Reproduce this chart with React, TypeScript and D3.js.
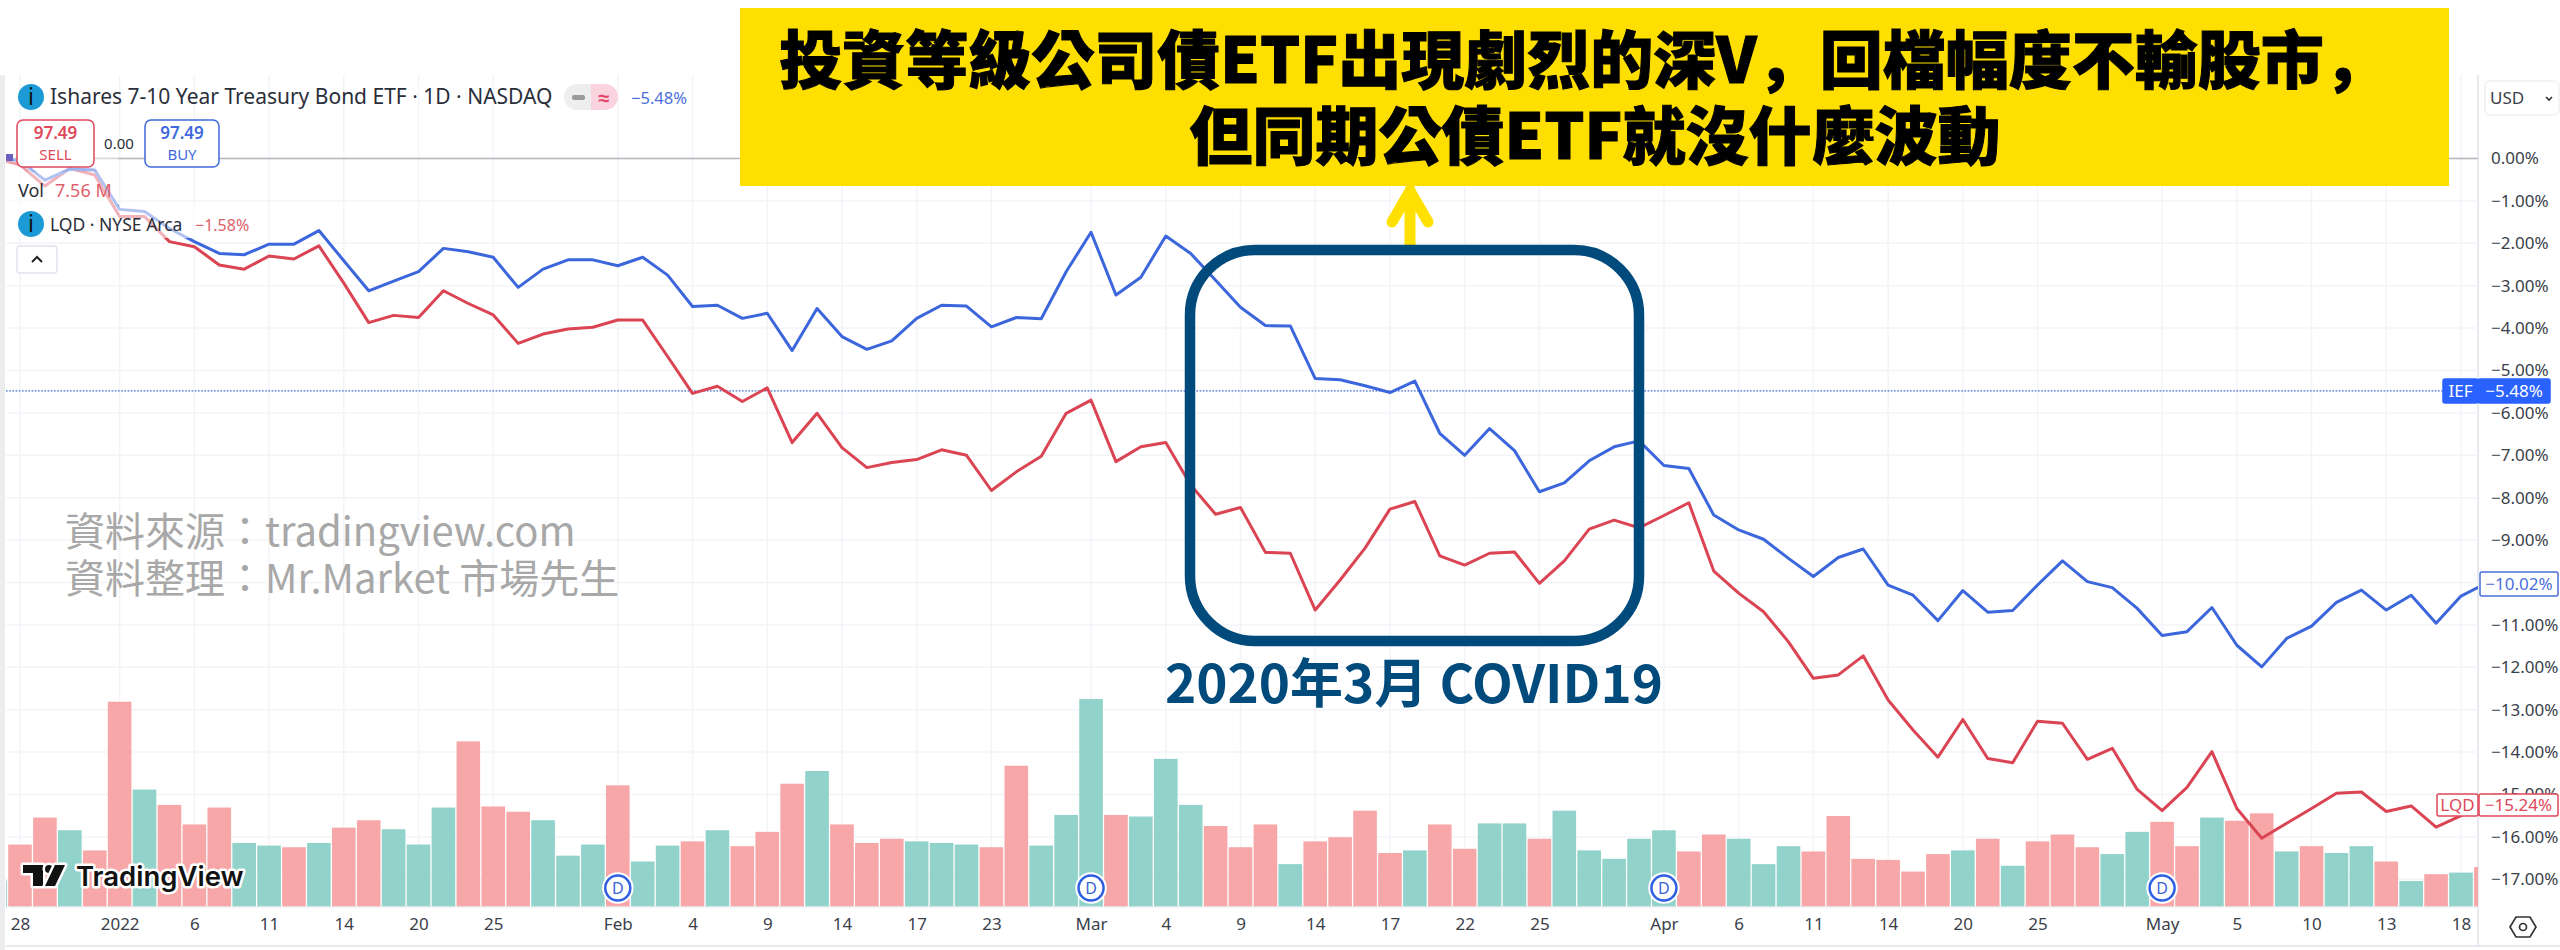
import { useEffect, useRef } from 'react'
import * as d3 from 'd3'

// index -1 and 99 are cut off by the chart edges
const barIndex = d3.range(-1, 100)

const iefValues = [
  0, -0.05, -0.51, -0.25, -0.27, -1.2, -1.25, -1.65, -1.96, -2.24, -2.27, -2.02, -2.02, -1.7, -2.41, -3.12, -2.89, -2.67, -2.12, -2.2,
  -2.33, -3.04, -2.61, -2.39, -2.39, -2.53, -2.33, -2.75, -3.49, -3.46, -3.77, -3.65, -4.53, -3.54, -4.2, -4.5, -4.3, -3.77, -3.46, -3.48,
  -3.97, -3.75, -3.78, -2.67, -1.74, -3.22, -2.8, -1.83, -2.24, -2.87, -3.51, -3.94, -3.95, -5.19, -5.22, -5.36, -5.52, -5.25, -6.48, -7.0,
  -6.37, -6.89, -7.86, -7.65, -7.13, -6.8, -6.66, -7.24, -7.31, -8.41, -8.76, -8.98, -9.43, -9.86, -9.41, -9.21, -10.06, -10.3, -10.9, -10.19,
  -10.7, -10.66, -10.06, -9.49, -9.98, -10.12, -10.61, -11.25, -11.16, -10.59, -11.48, -11.99, -11.32, -11.03, -10.47, -10.18, -10.65, -10.3, -10.96, -10.32,
  -10.02,
]

const lqdValues = [
  0, -0.15, -0.65, -0.23, -0.39, -1.37, -1.37, -1.96, -2.08, -2.51, -2.61, -2.3, -2.37, -2.06, -2.94, -3.87, -3.7, -3.75, -3.12, -3.42,
  -3.69, -4.36, -4.14, -4.02, -3.98, -3.81, -3.81, -4.67, -5.54, -5.37, -5.73, -5.41, -6.7, -6.01, -6.82, -7.29, -7.17, -7.1, -6.87, -7.0,
  -7.83, -7.39, -7.02, -6.01, -5.7, -7.15, -6.8, -6.7, -7.7, -8.39, -8.23, -9.29, -9.31, -10.65, -9.94, -9.19, -8.27, -8.09, -9.37, -9.59,
  -9.31, -9.28, -10.02, -9.49, -8.74, -8.53, -8.71, -8.42, -8.12, -9.73, -10.25, -10.69, -11.4, -12.26, -12.18, -11.73, -12.77, -13.48, -14.12, -13.23,
  -14.15, -14.25, -13.27, -13.32, -14.17, -13.91, -14.88, -15.38, -14.83, -13.99, -15.33, -16.03, -15.68, -15.33, -14.97, -14.94, -15.4, -15.27, -15.77, -15.5,
  -15.24,
]

// volume in millions
const volumes = [
  5.0, 11.8, 16.9, 14.5, 10.7, 38.8, 22.2, 19.3, 15.6, 18.8, 12.1, 11.6, 11.3, 12.1, 15.0, 16.4, 14.7, 11.8, 18.8, 31.3,
  19.0, 18.0, 16.4, 9.7, 11.8, 23.0, 8.6, 11.6, 12.4, 14.5, 11.5, 14.2, 23.3, 25.7, 15.6, 12.1, 12.9, 12.4, 12.1, 11.8,
  11.3, 26.7, 11.6, 17.4, 39.3, 17.4, 17.1, 28.0, 19.3, 15.3, 11.3, 15.6, 8.1, 12.4, 13.2, 18.2, 10.2, 10.7, 15.6, 11.0,
  15.8, 15.8, 12.9, 18.2, 10.7, 9.1, 12.9, 14.5, 10.5, 13.7, 12.9, 8.1, 11.5, 10.5, 17.2, 9.1, 8.9, 6.7, 10.0, 10.7,
  12.9, 7.8, 12.4, 13.7, 11.3, 10.0, 14.2, 16.1, 11.5, 16.9, 16.3, 17.7, 10.5, 11.5, 10.2, 11.5, 8.6, 4.9, 6.2, 6.5,
  7.56,
]

const upBars = [-1, 2, 5, 9, 10, 12, 15, 16, 17, 21, 22, 23, 25, 26, 28, 32, 36, 37, 38, 41, 42, 43, 45, 46, 47, 51, 56, 59, 60, 62, 63, 64, 65, 66, 69, 70, 71, 78, 80, 84, 85, 88, 91, 93, 94, 96, 98]

const timeTicks = [0, 4, 7, 10, 13, 16, 19, 24, 27, 30, 33, 36, 39, 43, 46, 49, 52, 55, 58, 61, 66, 69, 72, 75, 78, 81, 86, 89, 92, 95, 98]
const timeLabels = ['28', '2022', '6', '11', '14', '20', '25', 'Feb', '4', '9', '14', '17', '23', 'Mar', '4', '9', '14', '17', '22', '25', 'Apr', '6', '11', '14', '20', '25', 'May', '5', '10', '13', '18']
const pctTicks = d3.range(0, -18, -1)
const dividendBars = [24, 43, 66, 86]

const BLUE = '#2962ff'
const LINE_BLUE = '#3c66dc'
const LINE_RED = '#da4453'
const RED = '#e0475a'
const NAVY = '#004a7c'
const UI_FONT = '"Noto Sans", "Liberation Sans", sans-serif'
const CJK_FONT = '"Noto Sans CJK TC", "Noto Sans", sans-serif'

export default function App() {
  const ref = useRef<HTMLDivElement>(null)

  useEffect(() => {
    if (!ref.current) return
    const container = ref.current
    container.innerHTML = ''

    const width = 2560
    const height = 950
    const chartL = 6
    const chartR = 2478
    const chartT = 75
    const chartB = 946
    const volBase = 907

    const svg = d3.select(container).append('svg')
      .attr('width', width)
      .attr('height', height)
      .style('position', 'absolute')
      .style('left', 0)
      .style('top', 0)
      .style('background', '#fff')
      .style('font-family', UI_FONT)

    const x = d3.scaleLinear().domain([0, 98]).range([20, 2461])
    const y = d3.scaleLinear().domain([0, -17]).range([158.5, 879.3])
    const vol = d3.scaleLinear().domain([0, 7.56]).range([volBase, volBase - 40])

    svg.append('defs').append('clipPath').attr('id', 'plot')
      .append('rect').attr('x', chartL).attr('y', chartT).attr('width', chartR - chartL).attr('height', chartB - chartT)

    // left strip and frame
    svg.append('rect').attr('x', 0).attr('y', chartT).attr('width', 5).attr('height', height - chartT).attr('fill', '#ececee')
    svg.append('line').attr('x1', chartL).attr('x2', width).attr('y1', chartB).attr('y2', chartB).attr('stroke', '#e6e8ee').attr('stroke-width', 2)
    svg.append('line').attr('x1', chartR).attr('x2', chartR).attr('y1', chartT).attr('y2', chartB).attr('stroke', '#e0e3eb').attr('stroke-width', 1.5)

    const plot = svg.append('g').attr('clip-path', 'url(#plot)')

    // grid
    plot.selectAll('line.h').data(pctTicks).join('line').attr('class', 'h')
      .attr('x1', chartL).attr('x2', chartR).attr('y1', d => y(d)).attr('y2', d => y(d))
      .attr('stroke', '#f3f4f8').attr('stroke-width', 1.5)
    plot.selectAll('line.v').data(timeTicks).join('line').attr('class', 'v')
      .attr('x1', d => x(d)).attr('x2', d => x(d)).attr('y1', chartT).attr('y2', volBase)
      .attr('stroke', '#f3f4f8').attr('stroke-width', 1.5)

    // volume
    plot.selectAll('rect.vol').data(barIndex).join('rect').attr('class', 'vol')
      .attr('x', d => x(d) - 11.8)
      .attr('width', 23.6)
      .attr('y', (_, i) => vol(volumes[i]))
      .attr('height', (_, i) => volBase - vol(volumes[i]))
      .attr('fill', d => upBars.includes(d) ? '#91d2ca' : '#f7a7a8')
    plot.append('line').attr('x1', chartL).attr('x2', chartR).attr('y1', volBase).attr('y2', volBase)
      .attr('stroke', '#eceef2').attr('stroke-width', 1.5)

    // last price and zero lines
    plot.append('line').attr('x1', chartL).attr('x2', 2443).attr('y1', y(-5.48)).attr('y2', y(-5.48))
      .attr('stroke', '#5b7fd6').attr('stroke-width', 1.6).attr('stroke-dasharray', '1.6 1.6').attr('opacity', 0.85)
    plot.append('line').attr('x1', chartL).attr('x2', chartR).attr('y1', y(0)).attr('y2', y(0))
      .attr('stroke', '#b4b6bc').attr('stroke-width', 1.5)

    // series
    const line = d3.line<number>().x((_, i) => x(barIndex[i])).y(d => y(d))
    plot.append('path').datum(lqdValues).attr('d', line).attr('fill', 'none').attr('stroke', LINE_RED).attr('stroke-width', 3).attr('stroke-linejoin', 'round')
    plot.append('path').datum(iefValues).attr('d', line).attr('fill', 'none').attr('stroke', LINE_BLUE).attr('stroke-width', 3).attr('stroke-linejoin', 'round')

    // legend background washes out the lines a bit
    svg.append('rect').attr('x', chartL).attr('y', 172).attr('width', 112).attr('height', 34).attr('fill', '#fff').attr('opacity', 0.6)
    svg.append('rect').attr('x', chartL).attr('y', 206).attr('width', 250).attr('height', 32).attr('fill', '#fff').attr('opacity', 0.6)
    svg.append('rect').attr('x', chartL).attr('y', 158).attr('width', 112).attr('height', 14).attr('fill', '#fff').attr('opacity', 0.5)

    svg.append('rect').attr('x', 6).attr('y', 154).attr('width', 7).attr('height', 7).attr('fill', '#6a5fc0')

    // dividend flags
    const flags = svg.selectAll('g.flag').data(dividendBars).join('g').attr('class', 'flag')
      .attr('transform', d => `translate(${x(d)},888)`)
    flags.append('circle').attr('r', 14).attr('fill', '#fff').attr('stroke', '#fff').attr('stroke-width', 3.5)
    flags.append('circle').attr('r', 12.5).attr('fill', '#fff').attr('stroke', '#2f5fe0').attr('stroke-width', 2.5)
    flags.append('text').attr('y', 6).attr('text-anchor', 'middle').style('font-size', '16px').style('fill', '#3a62d8').text('D')

    // TradingView mark
    const logo = svg.append('g').attr('stroke', '#fff').attr('stroke-width', 5).attr('stroke-linejoin', 'round').style('paint-order', 'stroke')
    logo.append('path').attr('d', 'M23 865H43V886H33V873H23Z').attr('fill', '#111')
    logo.append('circle').attr('cx', 49).attr('cy', 869).attr('r', 4).attr('fill', '#111')
    logo.append('path').attr('d', 'M55 865H65L55 886H45Z').attr('fill', '#111')
    logo.append('text').attr('x', 76).attr('y', 886).attr('fill', '#111')
      .style('font-family', 'Inter, sans-serif').style('font-size', '27.5px').style('font-weight', 600).text('TradingView')

    // price scale
    const yAxis = d3.axisRight(y).tickValues(pctTicks).tickSize(0).tickPadding(0)
      .tickFormat(d => `${+d < 0 ? '\u2212' : ''}${Math.abs(+d).toFixed(2)}%`)
    const yG = svg.append('g').attr('transform', `translate(2491,0)`).call(yAxis)
    yG.select('.domain').remove()
    yG.selectAll('text').style('font-size', '17px').style('font-family', UI_FONT).style('fill', '#3b3f4a')

    // time scale
    const xAxis = d3.axisBottom(x).tickValues(timeTicks).tickSize(0).tickPadding(0)
      .tickFormat((_, i) => timeLabels[i])
    const xG = svg.append('g').attr('transform', `translate(0,918)`).call(xAxis)
    xG.select('.domain').remove()
    xG.selectAll('text').style('font-size', '17px').style('font-family', UI_FONT).style('fill', '#3b3f4a')

    // USD selector
    svg.append('rect').attr('x', 2485).attr('y', 81).attr('width', 74).attr('height', 34).attr('rx', 5).attr('fill', '#fff').attr('stroke', '#eef0f3').attr('stroke-width', 1.5)
    svg.append('text').attr('x', 2490).attr('y', 104).style('font-size', '17px').style('fill', '#3b3f4a').text('USD')
    svg.append('path').attr('d', 'M2546 97l3 3 3-3').attr('fill', 'none').attr('stroke', '#333').attr('stroke-width', 1.6)

    // settings icon
    svg.append('path').attr('d', 'M2516 917H2530L2536 927L2530 937H2516L2510 927Z').attr('fill', 'none').attr('stroke', '#333').attr('stroke-width', 1.7)
    svg.append('circle').attr('cx', 2523).attr('cy', 927).attr('r', 3.5).attr('fill', 'none').attr('stroke', '#333').attr('stroke-width', 1.7)

    // price tags
    const tag = (tx: number, tw: number, ty: number, th: number, label: string, fill: string, textFill: string, stroke: string) => {
      svg.append('rect').attr('x', tx).attr('y', ty).attr('width', tw).attr('height', th).attr('rx', 2).attr('fill', fill).attr('stroke', stroke).attr('stroke-width', 1.5)
      svg.append('text').attr('x', tx + tw / 2).attr('y', ty + th / 2 + 6).attr('text-anchor', 'middle').style('font-size', '17px').style('fill', textFill).text(label)
    }
    tag(2443, 35, 379, 24, 'IEF', BLUE, '#fff', BLUE)
    tag(2478, 72, 379, 24, '\u22125.48%', BLUE, '#fff', BLUE)
    tag(2480, 78, 572, 24, '\u221210.02%', '#fff', '#4a6fd8', '#4a6fd8')
    tag(2437, 41, 794, 22, 'LQD', '#fff', RED, RED)
    tag(2479, 79, 794, 22, '\u221215.24%', '#fff', RED, RED)

    // legend
    const infoBadge = (cy: number) => {
      svg.append('circle').attr('cx', 31).attr('cy', cy).attr('r', 13).attr('fill', '#1c9ad6')
      svg.append('text').attr('x', 31).attr('y', cy + 8).attr('text-anchor', 'middle').style('font-size', '23px').style('fill', '#111').text('i')
    }
    infoBadge(97)
    svg.append('text').attr('x', 50).attr('y', 104).style('font-size', '21px').style('fill', '#2a2e39')
      .text('Ishares 7-10 Year Treasury Bond ETF · 1D · NASDAQ')
    svg.append('path').attr('d', 'M591 84H577A13 13 0 0 0 577 110H591Z').attr('fill', '#eeeeee')
    svg.append('path').attr('d', 'M591 84H605A13 13 0 0 1 605 110H591Z').attr('fill', '#fbd3de')
    svg.append('rect').attr('x', 572).attr('y', 95).attr('width', 13).attr('height', 5).attr('rx', 2).attr('fill', '#9a9a9a')
    svg.append('text').attr('x', 604).attr('y', 105).attr('text-anchor', 'middle').style('font-size', '20px').style('font-weight', 700).style('fill', '#e0456a').text('≈')
    svg.append('text').attr('x', 631).attr('y', 104).style('font-size', '16.5px').style('fill', '#4a6fd8').text('\u22125.48%')

    const tradeBox = (bx: number, bw: number, color: string, price: string, label: string) => {
      svg.append('rect').attr('x', bx).attr('y', 120).attr('width', bw).attr('height', 47).attr('rx', 6).attr('fill', '#fff').attr('stroke', color).attr('stroke-width', 1.5)
      svg.append('text').attr('x', bx + bw / 2).attr('y', 139).attr('text-anchor', 'middle').style('font-size', '17px').style('font-weight', 600).style('fill', color).text(price)
      svg.append('text').attr('x', bx + bw / 2).attr('y', 160).attr('text-anchor', 'middle').style('font-size', '15px').style('fill', color).text(label)
    }
    tradeBox(17, 77, RED, '97.49', 'SELL')
    svg.append('text').attr('x', 119).attr('y', 149).attr('text-anchor', 'middle').style('font-size', '15px').style('fill', '#2a2e39').text('0.00')
    tradeBox(145, 74, '#3f69dc', '97.49', 'BUY')

    svg.append('text').attr('x', 18).attr('y', 197).style('font-size', '18px').style('fill', '#2a2e39').text('Vol')
    svg.append('text').attr('x', 55).attr('y', 197).style('font-size', '18px').style('fill', '#e0606c').text('7.56 M')

    infoBadge(224)
    svg.append('text').attr('x', 50).attr('y', 231).style('font-size', '17.5px').style('fill', '#2a2e39').text('LQD · NYSE Arca')
    svg.append('text').attr('x', 195).attr('y', 231).style('font-size', '16px').style('fill', '#e0606c').text('\u22121.58%')
    svg.append('rect').attr('x', 17).attr('y', 246).attr('width', 40).attr('height', 27).attr('rx', 3).attr('fill', '#fff').attr('stroke', '#e0e3eb').attr('stroke-width', 1.5)
    svg.append('path').attr('d', 'M32 262l5-5 5 5').attr('fill', 'none').attr('stroke', '#222').attr('stroke-width', 2)

    // watermark text
    const note = svg.append('g').style('font-family', CJK_FONT).style('font-size', '40px').style('fill', '#a8a8a8')
    note.append('text').attr('x', 65).attr('y', 546).text('資料來源：tradingview.com')
    note.append('text').attr('x', 65).attr('y', 593).text('資料整理：Mr.Market 市場先生')

    // annotation
    svg.append('path').attr('d', 'M1410 246V190M1392 222L1410 191L1428 222')
      .attr('fill', 'none').attr('stroke', '#ffe000').attr('stroke-width', 11).attr('stroke-linecap', 'round')
    svg.append('rect').attr('x', 740).attr('y', 8).attr('width', 1709).attr('height', 178).attr('fill', '#ffdf00')
    const headline = svg.append('g').attr('text-anchor', 'middle')
      .style('font-family', CJK_FONT).style('font-weight', 900).style('font-size', '63px').style('fill', '#000')
      .attr('stroke', '#000').attr('stroke-width', 1)
    // the commas sit low-left in the original, so they come from the SC face
    const first = headline.append('text').attr('x', 1583).attr('y', 83)
    first.append('tspan').text('投資等級公司債ETF出現劇烈的深V')
    first.append('tspan').style('font-family', '"Noto Sans CJK SC"').text('，')
    first.append('tspan').text('回檔幅度不輸股市')
    first.append('tspan').style('font-family', '"Noto Sans CJK SC"').text('，')
    headline.append('text').attr('x', 1595).attr('y', 159).text('但同期公債ETF就沒什麼波動')

    svg.append('rect').attr('x', 1190).attr('y', 250).attr('width', 449).attr('height', 391).attr('rx', 65).attr('ry', 65)
      .attr('fill', 'none').attr('stroke', NAVY).attr('stroke-width', 10.5)
    svg.append('text').attr('x', 1414).attr('y', 703).attr('text-anchor', 'middle')
      .style('font-family', CJK_FONT).style('font-weight', 700).style('font-size', '53px').style('fill', NAVY).text('2020年3月 COVID19')

    return () => { container.innerHTML = '' }
  }, [])

  return <div ref={ref} />
}
